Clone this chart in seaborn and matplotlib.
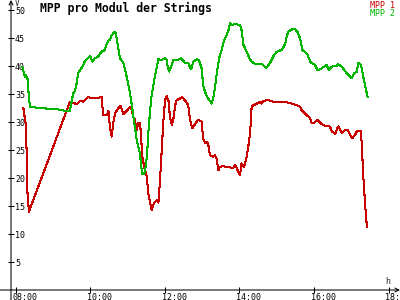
import matplotlib
matplotlib.use("Agg")
import matplotlib.pyplot as plt
import seaborn as sns
import pandas as pd
from matplotlib.transforms import ScaledTranslation

# ---- data (hours of day, volts) ----
series_names = ["MPP 1", "MPP 2"]
series_colors = ["#c80000", "#00b400"]

red_hours = [8.21, 8.27, 8.30, 8.32, 8.36, 9.46, 9.55, 9.64, 9.73, 9.82,
             9.94, 10.09, 10.31, 10.35, 10.45, 10.49, 10.53, 10.58, 10.62, 10.67,
             10.76, 10.82, 10.89, 10.98, 11.07, 11.12, 11.16, 11.20, 11.25, 11.29,
             11.34, 11.36, 11.40, 11.45, 11.52, 11.56, 11.61, 11.65, 11.72, 11.79,
             11.83, 11.87, 11.92, 11.96, 12.01, 12.05, 12.10, 12.14, 12.19, 12.23,
             12.28, 12.32, 12.41, 12.47, 12.54, 12.63, 12.68, 12.74, 12.81, 12.90,
             12.99, 13.03, 13.08, 13.13, 13.17, 13.21, 13.30, 13.34, 13.39, 13.44,
             13.48, 13.57, 13.66, 13.75, 13.84, 13.88, 13.93, 13.97, 14.02, 14.06,
             14.13, 14.20, 14.24, 14.29, 14.33, 14.38, 14.47, 14.56, 14.60, 14.64,
             14.78, 14.91, 15.27, 15.31, 15.41, 15.54, 15.63, 15.67, 15.81, 15.90,
             15.94, 16.00, 16.10, 16.21, 16.34, 16.43, 16.48, 16.57, 16.65, 16.75,
             16.83, 16.91, 16.97, 17.03, 17.10, 17.16, 17.25, 17.28, 17.32, 17.37,
             17.42]
red_vals = [32.5, 29.8, 24.5, 17.5, 14.0, 33.6, 33.4, 33.2, 33.8, 33.6,
            34.4, 34.3, 34.4, 31.2, 31.2, 32.0, 29.2, 27.4, 29.8, 31.6,
            32.5, 32.9, 31.4, 32.0, 32.7, 32.1, 30.9, 30.4, 28.6, 29.8,
            29.8, 28.0, 23.8, 22.0, 20.2, 17.3, 15.5, 14.3, 15.6, 16.1,
            15.6, 19.1, 25.0, 29.8, 33.9, 34.6, 33.9, 30.9, 29.5, 30.4,
            33.0, 33.9, 34.2, 34.4, 33.9, 33.0, 30.4, 28.9, 29.6, 30.4,
            30.1, 27.0, 26.3, 26.5, 25.9, 24.1, 23.8, 24.1, 23.5, 21.4,
            22.0, 22.1, 22.0, 21.9, 21.8, 22.3, 21.8, 21.1, 20.5, 22.6,
            22.0, 23.8, 25.6, 28.0, 32.7, 33.0, 33.3, 33.6, 33.3, 33.8,
            33.9, 33.6, 33.6, 33.4, 33.3, 33.0, 32.7, 32.1, 31.2, 30.7,
            29.8, 29.8, 30.4, 29.6, 29.2, 29.2, 28.3, 27.9, 29.2, 28.1,
            28.5, 28.5, 27.7, 27.1, 27.7, 28.4, 28.4, 26.5, 20.8, 15.5,
            11.3]

green_hours = [8.18, 8.25, 8.28, 8.32, 8.34, 8.36, 8.39, 8.52, 8.84, 9.10,
               9.33, 9.46, 9.51, 9.55, 9.60, 9.64, 9.68, 9.73, 9.80, 9.86,
               9.95, 10.00, 10.06, 10.13, 10.22, 10.27, 10.34, 10.37, 10.45, 10.49,
               10.53, 10.58, 10.65, 10.69, 10.74, 10.80, 10.89, 10.94, 11.01, 11.07,
               11.12, 11.16, 11.20, 11.25, 11.29, 11.34, 11.36, 11.40, 11.45, 11.49,
               11.53, 11.56, 11.61, 11.65, 11.72, 11.79, 11.83, 11.92, 12.01, 12.05,
               12.08, 12.12, 12.17, 12.23, 12.36, 12.44, 12.54, 12.63, 12.71, 12.77,
               12.86, 12.92, 12.99, 13.03, 13.08, 13.14, 13.21, 13.26, 13.30, 13.35,
               13.39, 13.46, 13.53, 13.59, 13.66, 13.71, 13.75, 13.80, 13.88, 14.02,
               14.06, 14.11, 14.20, 14.27, 14.33, 14.42, 14.56, 14.64, 14.72, 14.82,
               14.91, 15.00, 15.14, 15.18, 15.23, 15.27, 15.31, 15.40, 15.49, 15.57,
               15.63, 15.69, 15.76, 15.83, 15.90, 15.94, 16.03, 16.10, 16.21, 16.34,
               16.40, 16.48, 16.61, 16.65, 16.75, 16.83, 16.97, 17.01, 17.08, 17.15,
               17.19, 17.24, 17.28, 17.34, 17.39, 17.44]
green_vals = [39.9, 38.1, 38.4, 37.8, 36.3, 34.2, 32.7, 32.6, 32.4, 32.3,
              32.0, 32.0, 33.9, 35.1, 35.7, 36.9, 38.7, 39.3, 39.9, 40.9,
              41.5, 41.8, 40.8, 41.4, 41.7, 42.3, 42.7, 42.6, 44.0, 44.5,
              44.7, 45.5, 46.1, 45.8, 43.8, 41.4, 40.6, 39.3, 37.2, 35.1,
              33.0, 30.9, 29.2, 26.8, 25.6, 24.4, 22.6, 20.7, 20.7, 22.0,
              24.4, 28.0, 32.1, 34.8, 37.5, 39.9, 41.2, 41.1, 41.4, 41.2,
              39.9, 39.0, 39.9, 41.1, 41.1, 41.4, 40.6, 40.5, 39.4, 40.8,
              41.2, 41.0, 39.6, 36.6, 35.4, 34.4, 33.8, 33.3, 34.2, 36.3,
              38.4, 41.4, 42.9, 44.6, 45.5, 46.4, 47.7, 47.3, 47.5, 47.3,
              46.4, 43.8, 42.5, 41.4, 40.8, 40.4, 40.4, 40.2, 39.6, 40.5,
              41.7, 42.5, 42.9, 43.3, 44.0, 45.2, 46.1, 46.5, 46.6, 46.0,
              44.9, 42.9, 42.5, 42.0, 40.8, 40.5, 40.2, 39.2, 39.6, 40.2,
              39.3, 39.9, 40.0, 40.3, 39.9, 39.1, 38.1, 37.8, 38.7, 39.0,
              40.5, 40.4, 39.6, 37.5, 36.0, 34.4]

x_ticks = [8, 10, 12, 14, 16, 18]
x_tick_labels = ["08:00", "10:00", "12:00", "14:00", "16:00", "18:00"]
y_ticks = [5, 10, 15, 20, 25, 30, 35, 40, 45, 50]
title = "MPP pro Modul der Strings"

# ---- figure ----
sns.set_theme(style="white")
plt.rcParams["font.family"] = ["DejaVu Sans Mono", "DejaVu Sans"]

W, H, DPI = 400, 300, 100
fig = plt.figure(figsize=(W / DPI, H / DPI), dpi=DPI, facecolor="white")
ax = fig.add_axes([11 / W, 10 / H, 389 / W, 290 / H])
ax.set_facecolor("white")

for name, hrs, vals, col in zip(series_names, [red_hours, green_hours],
                                [red_vals, green_vals], series_colors):
    df = pd.DataFrame({"hour": hrs, "value": vals})
    sns.lineplot(data=df, x="hour", y="value", color=col, label=name,
                 sort=False, estimator=None, linewidth=0.75, ax=ax)
for ln in ax.lines:
    ln.set_antialiased(False)

ax.set_xlim(8 - 4.5 / 37.3, 8 + 384.5 / 37.3)
ax.set_ylim(0, 290 / 5.6)
ax.set_xlabel("")
ax.set_ylabel("")
for s in ax.spines.values():
    s.set_visible(False)

ax.set_xticks(x_ticks)
ax.set_xticklabels(x_tick_labels)
ax.set_yticks(y_ticks)
ax.tick_params(axis="both", direction="inout", length=4.3, width=0.75,
               color="black", labelsize=6, labelcolor="black",
               bottom=True, left=True)
ax.tick_params(axis="y", pad=-5.0)
ax.tick_params(axis="x", pad=-0.3)
for lbl in ax.get_yticklabels():
    lbl.set_horizontalalignment("left")
off = ScaledTranslation(-3 / DPI, 0, fig.dpi_scale_trans)
for lbl in ax.get_xticklabels():
    lbl.set_horizontalalignment("left")
    lbl.set_transform(lbl.get_transform() + off)

# axis lines with arrows (figure pixel coords)
ax.annotate("", xy=(11, H), xytext=(11, 0), xycoords="figure pixels",
            textcoords="figure pixels",
            arrowprops=dict(arrowstyle="->", lw=0.75, color="black",
                            mutation_scale=7, shrinkA=0, shrinkB=0))
ax.annotate("", xy=(W, 10), xytext=(0, 10), xycoords="figure pixels",
            textcoords="figure pixels",
            arrowprops=dict(arrowstyle="->", lw=0.75, color="black",
                            mutation_scale=7, shrinkA=0, shrinkB=0))

fig.text(40 / W, 1 - 8 / H, title, fontsize=8.3, fontweight="bold",
         ha="left", va="center", color="black")
fig.text(15 / W, 1 - 3 / H, "V", fontsize=5.5, ha="left", va="center")
fig.text(385 / W, 1 - 281 / H, "h", fontsize=6, ha="left", va="center")

ax.legend(loc="upper right", bbox_to_anchor=(396 / W, 1.0),
          bbox_transform=fig.transFigure, frameon=False, fontsize=6,
          handlelength=0, handletextpad=0, labelcolor="linecolor",
          borderaxespad=0, borderpad=0.1, labelspacing=-0.1)

fig.savefig("out.png", dpi=DPI, facecolor="white")
